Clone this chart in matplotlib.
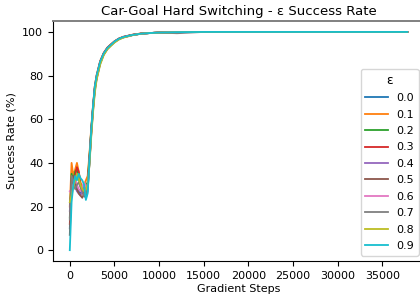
import matplotlib
matplotlib.use("Agg")
import matplotlib.pyplot as plt

steps = [0, 200, 400, 600, 800, 1000, 1200, 1400, 1600, 1800, 2000, 2200, 2400,
         2600, 2800, 3000, 3400, 3800, 4200, 4600, 5000, 5500, 6000, 7000, 8000,
         9000, 10000, 12000, 15000, 20000, 37800]

eps_labels = ["0.0", "0.1", "0.2", "0.3", "0.4", "0.5", "0.6", "0.7", "0.8", "0.9"]

s00 = [10, 30, 33, 31, 29, 27, 26, 27, 25, 24, 27, 40, 54, 65, 74, 79, 86, 90, 92.5, 94, 95.5, 96.8, 97.6, 98.6, 99.2, 99.5, 99.7, 99.9, 100, 100, 100]
s01 = [20, 40, 34, 37, 40, 36, 31, 29, 30, 32, 34, 44, 56, 66, 75, 80, 86.5, 90.2, 92.7, 94.2, 95.6, 96.9, 97.7, 98.7, 99.3, 99.5, 99.7, 99.9, 100, 100, 100]
s02 = [15, 35, 32, 36, 37, 33, 29, 27, 28, 30, 31, 43, 55, 65, 74, 79, 86, 90, 92.4, 94, 95.5, 96.8, 97.6, 98.6, 99.2, 99.5, 99.7, 99.9, 100, 100, 100]
s03 = [12, 33, 30, 34, 38, 36, 30, 26, 27, 29, 30, 42, 55, 66, 75, 80, 86.6, 90.4, 92.8, 94.3, 95.7, 97, 97.8, 98.7, 99.3, 99.5, 99.7, 99.9, 100, 100, 100]
s04 = [18, 28, 30, 29, 27, 26, 25, 27, 29, 30, 29, 41, 54, 65, 74, 79, 86, 89.9, 92.4, 94, 95.5, 96.8, 97.6, 98.6, 99.2, 99.5, 99.7, 99.9, 100, 100, 100]
s05 = [7, 31, 34, 30, 28, 26, 25, 24, 26, 28, 29, 41, 54, 65, 74, 79, 86, 90, 92.5, 94, 95.5, 96.8, 97.6, 98.6, 99.2, 99.5, 99.7, 99.9, 100, 100, 100]
s06 = [27, 26, 30, 33, 30, 28, 27, 29, 31, 29, 28, 40, 53, 64, 73, 78.5, 85.5, 89.7, 92.2, 93.8, 95.3, 96.7, 97.5, 98.5, 99.2, 99.5, 99.7, 99.9, 100, 100, 100]
s07 = [14, 34, 31, 28, 30, 31, 29, 27, 25, 26, 28, 40, 53, 64, 73, 78.5, 85.5, 89.6, 92.1, 93.8, 95.3, 96.7, 97.5, 98.5, 99.2, 99.5, 99.7, 99.4, 100, 100, 100]
s08 = [22, 25, 29, 32, 35, 33, 30, 28, 27, 28, 30, 39, 52, 63, 72, 78, 85, 89.4, 92, 93.6, 95.1, 96.5, 97.4, 98.5, 99.2, 99.5, 99.7, 99.9, 100, 100, 100]
s09 = [0, 22, 30, 34, 32, 35, 33, 32, 30, 23, 26, 41, 55, 66, 75, 80, 86.4, 90.2, 92.6, 94.1, 95.6, 96.9, 97.7, 98.6, 99.2, 99.5, 99.7, 99.9, 100, 100, 100]

series = [s00, s01, s02, s03, s04, s05, s06, s07, s08, s09]

fig = plt.figure(figsize=(4.2, 2.96), dpi=100)
ax = fig.add_axes([0.126, 0.118, 0.884, 0.811])

for lab, vals in zip(eps_labels, series):
    ax.plot(steps, vals, label=lab, linewidth=1.3)

ax.set_xlim(-1890, 39690)
ax.set_ylim(-5, 105)
ax.set_xticks([0, 5000, 10000, 15000, 20000, 25000, 30000, 35000])
ax.set_yticks([0, 20, 40, 60, 80, 100])
ax.tick_params(labelsize=8, length=3.5)
ax.set_xlabel("Gradient Steps", fontsize=8, labelpad=2)
ax.set_ylabel("Success Rate (%)", fontsize=8)
ax.set_title("Car-Goal Hard Switching - ε Success Rate", fontsize=9.5, pad=4)
ax.spines["top"].set_color("#808080")
ax.spines["top"].set_linewidth(1.4)
ax.spines["right"].set_visible(False)
ax.legend(title="ε", fontsize=8, title_fontsize=9, loc="lower right",
          labelspacing=0.58)

fig.savefig("out.png", dpi=100)
